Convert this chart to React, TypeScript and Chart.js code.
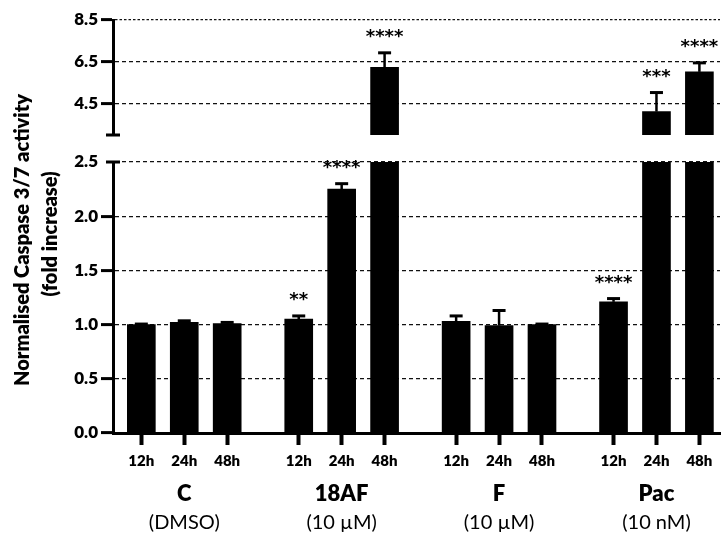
import React, { useEffect, useRef } from 'react';
import { Chart, registerables } from 'chart.js';

Chart.register(...registerables);

// ---- data ----
const GROUPS = ['C', '18AF', 'F', 'Pac'];
const GROUP_SUBTITLES = ['(DMSO)', '(10 µM)', '(10 µM)', '(10 nM)'];
const TIMES = ['12h', '24h', '48h'];
const MEAN_12H = [1.0, 1.05, 1.03, 1.21];
const MEAN_24H = [1.02, 2.25, 0.99, 4.12];
const MEAN_48H = [1.01, 6.24, 1.0, 6.02];
const ERR_12H = [0.005, 0.03, 0.05, 0.03];
const ERR_24H = [0.015, 0.05, 0.14, 0.91];
const ERR_48H = [0.01, 0.69, 0.005, 0.43];
const SIG_12H = ['', '**', '', '****'];
const SIG_24H = ['', '****', '', '***'];
const SIG_48H = ['', '****', '', '****'];
const LOWER_TICKS = [0, 0.5, 1, 1.5, 2, 2.5];
const UPPER_TICKS = [4.5, 6.5, 8.5];
const LOWER_RANGE = [0, 2.5];
const UPPER_RANGE = [3.0, 8.5];
const Y_TITLE = ['Normalised Caspase 3/7 activity', '(fold increase)'];

// ---- layout constants ----
const GROUP_STEP = 11 / 3;
const X_MIN = -0.66;
const X_MAX = 13.48;
const FONT = 'Lato';
const HEAVY = '800';

const MEANS = [MEAN_12H, MEAN_24H, MEAN_48H];
const ERRS = [ERR_12H, ERR_24H, ERR_48H];
const SIGS = [SIG_12H, SIG_24H, SIG_48H];

type Bar = { x: number; mean: number; err: number; sig: string };
const BARS: Bar[] = [];
GROUPS.forEach((_, g) => {
  TIMES.forEach((__, t) => {
    BARS.push({ x: g * GROUP_STEP + t, mean: MEANS[t][g], err: ERRS[t][g], sig: SIGS[t][g] });
  });
});
const BAR_X = BARS.map((b) => b.x);
const GROUP_X = GROUPS.map((_, g) => g * GROUP_STEP + 1);

const decorPlugin = {
  id: 'decor',
  afterDatasetsDraw(chart: any) {
    const { ctx } = chart;
    const xs = chart.scales.x;
    const yLow = chart.scales.yLow;
    const yHigh = chart.scales.yHigh;
    ctx.save();
    ctx.strokeStyle = '#000';
    ctx.fillStyle = '#000';
    BARS.forEach((b) => {
      const sc = b.mean > UPPER_RANGE[0] ? yHigh : yLow;
      const px = xs.getPixelForValue(b.x);
      const yTop = sc.getPixelForValue(b.mean);
      const yErr = sc.getPixelForValue(b.mean + b.err);
      ctx.lineWidth = 2.5;
      ctx.beginPath();
      ctx.moveTo(px, yTop);
      ctx.lineTo(px, yErr);
      ctx.stroke();
      ctx.lineWidth = 3;
      ctx.beginPath();
      ctx.moveTo(px - 6.5, yErr);
      ctx.lineTo(px + 6.5, yErr);
      ctx.stroke();
      if (b.sig) {
        ctx.font = `bold 18px "DejaVu Sans"`;
        ctx.textAlign = 'center';
        ctx.textBaseline = 'alphabetic';
        ctx.fillText(b.sig, px, yErr - 11);
      }
    });
    ctx.restore();
  },
  afterDraw(chart: any) {
    const { ctx, chartArea } = chart;
    const yLow = chart.scales.yLow;
    const yHigh = chart.scales.yHigh;
    const ax = chartArea.left;
    ctx.save();
    ctx.strokeStyle = '#000';
    ctx.lineWidth = 3;
    ctx.beginPath();
    ctx.moveTo(ax - 7, yHigh.bottom);
    ctx.lineTo(ax + 7, yHigh.bottom);
    ctx.moveTo(ax - 7, yLow.top);
    ctx.lineTo(ax + 7, yLow.top);
    ctx.stroke();
    // y-axis title (size chosen so the first line spans the same length as in the figure)
    ctx.fillStyle = '#000';
    ctx.textAlign = 'center';
    ctx.textBaseline = 'middle';
    ctx.font = `${HEAVY} 18px ${FONT}`;
    const w = ctx.measureText(Y_TITLE[0]).width || 300;
    const size = Math.min(20, (18 * 300) / w);
    ctx.font = `${HEAVY} ${size}px ${FONT}`;
    ctx.save();
    ctx.translate(23, 240);
    ctx.rotate(-Math.PI / 2);
    ctx.fillText(Y_TITLE[0], 0, 0);
    ctx.restore();
    ctx.save();
    ctx.translate(50.5, 234);
    ctx.rotate(-Math.PI / 2);
    ctx.fillText(Y_TITLE[1], 0, 0);
    ctx.restore();
    ctx.restore();
  },
};

const yCommon = (ticks: number[], dashTop?: number) => ({
  type: 'linear',
  position: 'left',
  stack: 'v',
  afterFit: (s: any) => {
    s.width = 113;
  },
  afterBuildTicks: (s: any) => {
    s.ticks = ticks.map((v) => ({ value: v }));
  },
  border: {
    display: true,
    color: '#000',
    width: 3,
    dash: (c: any) => (dashTop !== undefined && c.tick && c.tick.value === dashTop ? [2.5, 2] : [4, 3]),
  },
  grid: {
    color: '#111',
    lineWidth: 1.2,
    drawTicks: true,
    tickLength: 12,
    tickWidth: 3,
    tickColor: (c: any) => (c.tick && c.tick.value === LOWER_RANGE[1] ? 'rgba(0,0,0,0)' : '#000'),
  },
  ticks: {
    color: '#000',
    padding: 3,
    font: { family: FONT, weight: HEAVY, size: 17 },
    callback: (v: any) => Number(v).toFixed(1),
  },
});

const xCommon = {
  type: 'linear',
  position: 'bottom',
  min: X_MIN,
  max: X_MAX,
  offset: false,
};

export default function App() {
  const ref = useRef<HTMLCanvasElement>(null);
  useEffect(() => {
    const canvas = ref.current!;
    const lowerData = BARS.map((b) => ({ x: b.x, y: Math.min(b.mean, LOWER_RANGE[1]) }));
    const upperData = BARS.filter((b) => b.mean > UPPER_RANGE[0]).map((b) => ({ x: b.x, y: b.mean }));
    const chart = new Chart(canvas, {
      type: 'bar',
      data: {
        datasets: [
          {
            label: 'lower',
            data: lowerData,
            xAxisID: 'x',
            yAxisID: 'yLow',
            backgroundColor: '#000',
            borderWidth: 0,
            barThickness: 28,
            grouped: false,
          } as any,
          {
            label: 'upper',
            data: upperData,
            xAxisID: 'x',
            yAxisID: 'yHigh',
            backgroundColor: '#000',
            borderWidth: 0,
            barThickness: 28,
            grouped: false,
            base: UPPER_RANGE[0],
          } as any,
        ],
      },
      options: {
        animation: false,
        responsive: false,
        devicePixelRatio: 1,
        layout: { padding: { left: 0, right: 1, top: 20, bottom: 0 } },
        plugins: { legend: { display: false }, tooltip: { enabled: false } },
        scales: {
          x: {
            ...xCommon,
            afterFit: (s: any) => {
              s.height = 35;
            },
            afterBuildTicks: (s: any) => {
              s.ticks = BAR_X.map((v) => ({ value: v }));
            },
            border: { display: true, color: '#000', width: 3 },
            grid: {
              display: true,
              offset: false,
              drawOnChartArea: false,
              drawTicks: true,
              tickLength: 12,
              tickWidth: 4,
              tickColor: '#000',
            },
            ticks: {
              autoSkip: false,
              maxRotation: 0,
              padding: 7,
              color: '#000',
              font: { family: FONT, weight: HEAVY, size: 15 },
              callback: (_v: any, i: number) => TIMES[i % TIMES.length],
            },
          },
          x2: {
            ...xCommon,
            afterFit: (s: any) => {
              s.height = 34;
            },
            afterBuildTicks: (s: any) => {
              s.ticks = GROUP_X.map((v) => ({ value: v }));
            },
            border: { display: false },
            grid: { display: false, offset: false, drawOnChartArea: false, drawTicks: false },
            ticks: {
              autoSkip: false,
              maxRotation: 0,
              padding: 12.5,
              color: '#000',
              font: { family: FONT, weight: HEAVY, size: 22 },
              callback: (_v: any, i: number) => GROUPS[i],
            },
          },
          x3: {
            ...xCommon,
            afterFit: (s: any) => {
              s.height = 33;
            },
            afterBuildTicks: (s: any) => {
              s.ticks = GROUP_X.map((v) => ({ value: v }));
            },
            border: { display: false },
            grid: { display: false, offset: false, drawOnChartArea: false, drawTicks: false },
            ticks: {
              autoSkip: false,
              maxRotation: 0,
              padding: 9,
              color: '#000',
              font: { family: FONT, weight: 'normal', size: 20 },
              callback: (_v: any, i: number) => GROUP_SUBTITLES[i],
            },
          },
          yLow: {
            ...yCommon(LOWER_TICKS),
            min: LOWER_RANGE[0],
            max: LOWER_RANGE[1],
            stackWeight: 271,
          },
          yGap: {
            type: 'linear',
            position: 'left',
            stack: 'v',
            stackWeight: 27,
            afterFit: (s: any) => {
              s.width = 113;
            },
            border: { display: false },
            grid: { display: false, drawTicks: false },
            ticks: { display: false },
          },
          yHigh: {
            ...yCommon(UPPER_TICKS, UPPER_TICKS[UPPER_TICKS.length - 1]),
            min: UPPER_RANGE[0],
            max: UPPER_RANGE[1],
            stackWeight: 115,
          },
        } as any,
      },
      plugins: [decorPlugin],
    });
    return () => chart.destroy();
  }, []);
  return (
    <div style={{ position: 'absolute', left: 0, top: 0, width: 721, height: 535, background: '#fff' }}>
      <canvas ref={ref} width={721} height={535} style={{ display: 'block', width: 721, height: 535 }} />
    </div>
  );
}
